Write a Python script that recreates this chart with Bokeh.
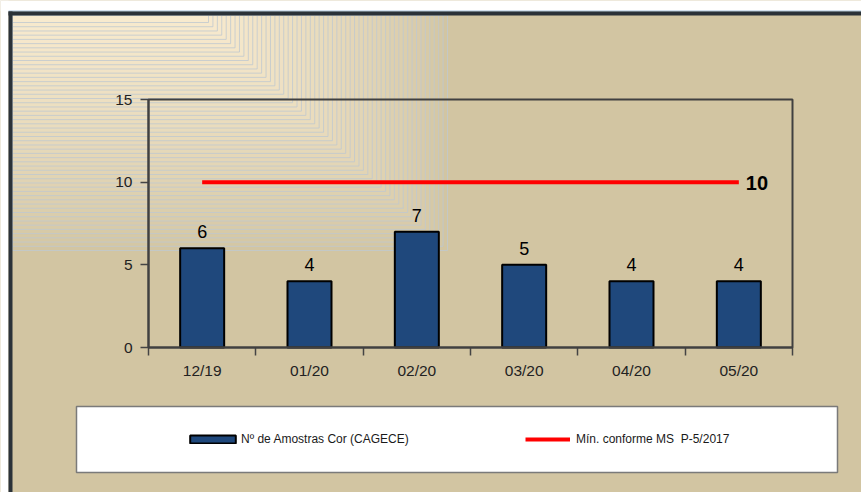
from bokeh.plotting import figure
from bokeh.models import (Range1d, FixedTicker, BoxAnnotation, LabelSet, Label,
                          ColumnDataSource, Legend, LegendItem)
from bokeh.core.properties import value
from bokeh.embed import file_html
from bokeh.resources import INLINE

categories = ["12/19", "01/20", "02/20", "03/20", "04/20", "05/20"]
amostras = [6, 4, 7, 5, 4, 4]
minimo = [10, 10, 10, 10, 10, 10]
y_ticks = [0, 5, 10, 15]
bar_label = "Nº de Amostras Cor (CAGECE)"
line_label = "Mín. conforme MS  P-5/2017"

TAN = "#D2C5A2"
CREAM = "#F8EACE"
FONT = "Liberation Sans"

W, H = 861, 492
# plot area (in page pixels)
FL, FR, FT, FB = 148, 792, 99, 347
ncat = len(categories)
ymax = 15
xs = [i + 0.5 for i in range(ncat)]

kx = (FR - FL) / ncat
ky = (FB - FT) / ymax
x_range = Range1d(-FL / kx, ncat + (W - FR) / kx)
y_range = Range1d(-(H - FB) / ky, ymax + FT / ky)

p = figure(width=W, height=H, output_backend="svg", toolbar_location=None,
           x_range=x_range, y_range=y_range, min_border=0,
           min_border_left=0, min_border_right=0, min_border_top=0, min_border_bottom=0)
p.background_fill_color = TAN
p.border_fill_color = TAN
p.outline_line_color = None
p.grid.visible = False

def cbox(l, r, t, b, **kw):
    return BoxAnnotation(left=l, right=r, top=t, bottom=b,
                         left_units="canvas", right_units="canvas",
                         top_units="canvas", bottom_units="canvas", **kw)

# decorative gradient corner (nested L frames)
N = 55
def lerp(a, b, t):
    return int(round(a + (b - a) * t))
c0 = tuple(int(TAN[i:i + 2], 16) for i in (1, 3, 5))
c1 = tuple(int(CREAM[i:i + 2], 16) for i in (1, 3, 5))
for k in range(N):
    t = k / (N - 1)
    col = "#%02x%02x%02x" % tuple(lerp(c0[j], c1[j], t ** 0.8) for j in range(3))
    r = 447 - (447 - 208) * t
    b = 250 - (250 - 22) * t
    p.add_layout(cbox(12, r, 15, b, fill_color=col, fill_alpha=1.0,
                      line_color="#BFC8D0", line_alpha=0.8, line_width=1,
                      level="underlay"))

# page borders
p.add_layout(cbox(0, W, 0, 10.5, fill_color="white", fill_alpha=1, line_color=None))
p.add_layout(cbox(0, 8, 0, H, fill_color="white", fill_alpha=1, line_color=None))
p.add_layout(cbox(8, W, 10, 11.3, fill_color="#A9C3DD", fill_alpha=1, line_color=None))
p.add_layout(cbox(8, W, 11, 15, fill_color="#2B3238", fill_alpha=1, line_color=None))
p.add_layout(cbox(8, 12, 11, H, fill_color="#2B3238", fill_alpha=1, line_color=None))

# legend box
p.add_layout(cbox(76, 837, 406, 472, fill_color="white", fill_alpha=1,
                  line_color="#7A7A7A", line_alpha=1, line_width=1.5))

src = ColumnDataSource(dict(x=xs, y=amostras, lab=[str(v) for v in amostras], m=minimo))

bars = p.vbar(x="x", top="y", width=0.41, source=src, fill_color="#1F487C",
              line_color="black", line_width=2)
line = p.line(x="x", y="m", source=src, line_color="#FF0000", line_width=4)

p.add_layout(LabelSet(x="x", y="y", text="lab", source=src, text_align="center",
                      text_baseline="alphabetic", y_offset=10,
                      text_font=value(FONT), text_font_size="18px", text_color="black"))
p.add_layout(Label(x=xs[-1], y=minimo[-1], text=str(minimo[-1]), x_offset=7, y_offset=-1,
                   text_baseline="middle", text_font=FONT, text_font_size="20px",
                   text_font_style="bold", text_color="black"))

# frame border
p.add_layout(BoxAnnotation(left=0, right=ncat, bottom=0, top=ymax,
                           fill_alpha=0, line_color="#404040", line_alpha=1, line_width=2))

# axes
xa = p.xaxis[0]
xa.fixed_location = 0
xa.bounds = (0, ncat)
xa.ticker = FixedTicker(ticks=xs, minor_ticks=list(range(ncat + 1)))
xa.major_label_overrides = {x: c for x, c in zip(xs, categories)}
xa.major_tick_out = 0
xa.major_tick_in = 0
xa.minor_tick_out = 8
xa.minor_tick_in = 0
xa.minor_tick_line_color = "#444444"
xa.minor_tick_line_width = 1.5
xa.axis_line_color = "#444444"
xa.axis_line_width = 2
xa.major_label_standoff = 6
xa.major_label_text_font = FONT
xa.major_label_text_font_size = "15.5px"
xa.major_label_text_color = "#222222"

ya = p.yaxis[0]
ya.fixed_location = 0
ya.bounds = (0, ymax)
ya.ticker = FixedTicker(ticks=y_ticks, minor_ticks=[])
ya.major_tick_out = 8
ya.major_tick_in = 0
ya.major_tick_line_color = "#444444"
ya.major_tick_line_width = 1.5
ya.axis_line_color = "#444444"
ya.axis_line_width = 2
ya.major_label_standoff = 8
ya.major_label_text_font = FONT
ya.major_label_text_font_size = "15.5px"
ya.major_label_text_color = "#222222"

# legends
def mk_legend(item, loc, gw, gh, standoff):
    return Legend(items=[item], location=loc, orientation="horizontal",
                  glyph_width=gw, glyph_height=gh, label_standoff=standoff,
                  padding=0, spacing=0, margin=0, label_height=10,
                  background_fill_alpha=0, border_line_color=None,
                  label_text_font=FONT, label_text_font_size="12px",
                  label_text_color="#1A1A1A")

p.add_layout(mk_legend(LegendItem(label=bar_label, renderers=[bars]), (184, 46), 57, 10, 0))
p.add_layout(mk_legend(LegendItem(label=line_label, renderers=[line]), (525, 46), 45, 10, 6))

open("out.html", "w").write(file_html(p, INLINE))
